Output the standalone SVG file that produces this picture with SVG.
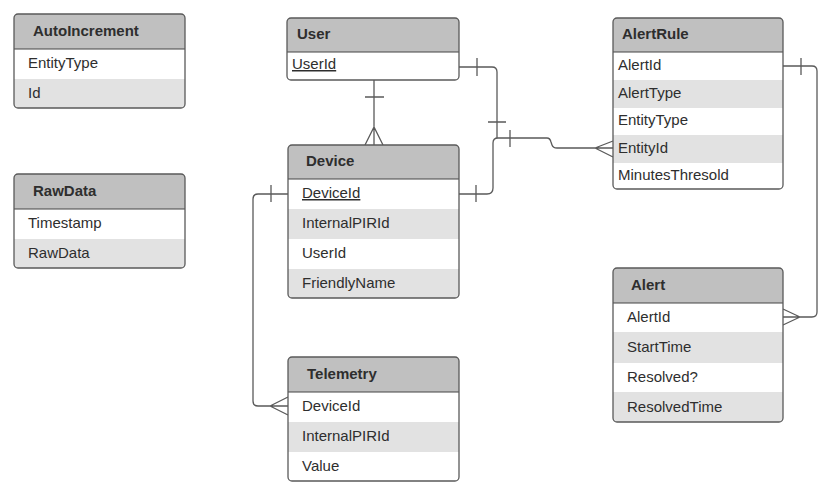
<svg xmlns="http://www.w3.org/2000/svg" width="833" height="496" viewBox="0 0 833 496">
<style>
.hd{fill:#c0c0c0}
.w{fill:#ffffff}
.g{fill:#e2e2e2}
.ol{fill:none;stroke:#5a5a5a;stroke-width:1.3}
.sep{stroke:#444;stroke-width:1.2}
.ht{font-family:"Liberation Sans",Arial,sans-serif;font-size:15px;font-weight:bold;fill:#2e2e2e}
.rt{font-family:"Liberation Sans",Arial,sans-serif;font-size:15px;fill:#2e2e2e}
.ln{fill:none;stroke:#5a5a5a;stroke-width:1.3}
</style>
<defs>
<clipPath id="c1"><rect x="14" y="14" width="171" height="94" rx="4"/></clipPath>
<clipPath id="c2"><rect x="14" y="174" width="171" height="94" rx="4"/></clipPath>
<clipPath id="c3"><rect x="287" y="18" width="172" height="62" rx="4"/></clipPath>
<clipPath id="c4"><rect x="288" y="145" width="171" height="153" rx="4"/></clipPath>
<clipPath id="c5"><rect x="288" y="357" width="171" height="124" rx="4"/></clipPath>
<clipPath id="c6"><rect x="613" y="18" width="170" height="171" rx="4"/></clipPath>
<clipPath id="c7"><rect x="613" y="268" width="170" height="154" rx="4"/></clipPath>
</defs>
<rect width="833" height="496" fill="#ffffff"/>

<g id="connectors">
<path class="ln" d="M374 80 V145 M365 97 H384 M365 145 L374 127 L383 145"/>
<path class="ln" d="M459 67 H492 Q497 67 497 72 V138 M477 58 V76 M488 122 H506"/>
<path class="ln" d="M459 194 H487 Q493 194 493 188 V143 Q493 138 498 138 H547 Q550 138 551 142 L552 145 Q553 148 557 148 H613 M476 185 V202 M510 130 V147 M595 148 L613 141 M595 148 L613 157"/>
<path class="ln" d="M783 66 H812 Q817 66 817 71 V312 Q817 317 812 317 H783 M801 58 V75 M800 317 L783 309 M800 317 L783 325"/>
<path class="ln" d="M288 194 H258 Q253 194 253 199 V401 Q253 406 258 406 H288 M271 185 V202 M270 406 L288 397 M270 406 L288 415"/>
</g>

<g id="AutoIncrement">
<g clip-path="url(#c1)">
<rect class="hd" x="14" y="14" width="171" height="35"/>
<rect class="w" x="14" y="49" width="171" height="30"/>
<rect class="g" x="14" y="79" width="171" height="29"/>
</g>
<line class="sep" x1="14" y1="49" x2="185" y2="49"/>
<rect class="ol" x="14" y="14" width="171" height="94" rx="4"/>
<text class="ht" x="33" y="36">AutoIncrement</text>
<text class="rt" x="28" y="68">EntityType</text>
<text class="rt" x="28" y="98">Id</text>
</g>

<g id="RawData">
<g clip-path="url(#c2)">
<rect class="hd" x="14" y="174" width="171" height="35"/>
<rect class="w" x="14" y="209" width="171" height="30"/>
<rect class="g" x="14" y="239" width="171" height="29"/>
</g>
<line class="sep" x1="14" y1="209" x2="185" y2="209"/>
<rect class="ol" x="14" y="174" width="171" height="94" rx="4"/>
<text class="ht" x="33" y="196">RawData</text>
<text class="rt" x="28" y="228">Timestamp</text>
<text class="rt" x="28" y="258">RawData</text>
</g>

<g id="User">
<g clip-path="url(#c3)">
<rect class="hd" x="287" y="18" width="172" height="34"/>
<rect class="w" x="287" y="52" width="172" height="28"/>
</g>
<line class="sep" x1="287" y1="52" x2="459" y2="52"/>
<rect class="ol" x="287" y="18" width="172" height="62" rx="4"/>
<text class="ht" x="297" y="39">User</text>
<text class="rt" x="292" y="69" text-decoration="underline">UserId</text>
</g>

<g id="Device">
<g clip-path="url(#c4)">
<rect class="hd" x="288" y="145" width="171" height="34"/>
<rect class="w" x="288" y="179" width="171" height="30"/>
<rect class="g" x="288" y="209" width="171" height="30"/>
<rect class="w" x="288" y="239" width="171" height="30"/>
<rect class="g" x="288" y="269" width="171" height="29"/>
</g>
<line class="sep" x1="288" y1="179" x2="459" y2="179"/>
<rect class="ol" x="288" y="145" width="171" height="153" rx="4"/>
<text class="ht" x="306" y="166">Device</text>
<text class="rt" x="302" y="198" text-decoration="underline">DeviceId</text>
<text class="rt" x="302" y="228">InternalPIRId</text>
<text class="rt" x="302" y="258">UserId</text>
<text class="rt" x="302" y="288">FriendlyName</text>
</g>

<g id="Telemetry">
<g clip-path="url(#c5)">
<rect class="hd" x="288" y="357" width="171" height="35"/>
<rect class="w" x="288" y="392" width="171" height="30"/>
<rect class="g" x="288" y="422" width="171" height="30"/>
<rect class="w" x="288" y="452" width="171" height="29"/>
</g>
<line class="sep" x1="288" y1="392" x2="459" y2="392"/>
<rect class="ol" x="288" y="357" width="171" height="124" rx="4"/>
<text class="ht" x="307" y="379">Telemetry</text>
<text class="rt" x="302" y="411">DeviceId</text>
<text class="rt" x="302" y="441">InternalPIRId</text>
<text class="rt" x="302" y="471">Value</text>
</g>

<g id="AlertRule">
<g clip-path="url(#c6)">
<rect class="hd" x="613" y="18" width="170" height="34"/>
<rect class="w" x="613" y="52" width="170" height="28"/>
<rect class="g" x="613" y="80" width="170" height="28"/>
<rect class="w" x="613" y="108" width="170" height="27"/>
<rect class="g" x="613" y="135" width="170" height="28"/>
<rect class="w" x="613" y="163" width="170" height="26"/>
</g>
<line class="sep" x1="613" y1="52" x2="783" y2="52"/>
<rect class="ol" x="613" y="18" width="170" height="171" rx="4"/>
<text class="ht" x="622" y="39">AlertRule</text>
<text class="rt" x="618" y="70">AlertId</text>
<text class="rt" x="618" y="98">AlertType</text>
<text class="rt" x="618" y="125">EntityType</text>
<text class="rt" x="618" y="153">EntityId</text>
<text class="rt" x="618" y="180">MinutesThresold</text>
</g>

<g id="Alert">
<g clip-path="url(#c7)">
<rect class="hd" x="613" y="268" width="170" height="35"/>
<rect class="w" x="613" y="303" width="170" height="29"/>
<rect class="g" x="613" y="332" width="170" height="31"/>
<rect class="w" x="613" y="363" width="170" height="29"/>
<rect class="g" x="613" y="392" width="170" height="30"/>
</g>
<line class="sep" x1="613" y1="303" x2="783" y2="303"/>
<rect class="ol" x="613" y="268" width="170" height="154" rx="4"/>
<text class="ht" x="631" y="290">Alert</text>
<text class="rt" x="627" y="322">AlertId</text>
<text class="rt" x="627" y="352">StartTime</text>
<text class="rt" x="627" y="382">Resolved?</text>
<text class="rt" x="627" y="412">ResolvedTime</text>
</g>
</svg>
